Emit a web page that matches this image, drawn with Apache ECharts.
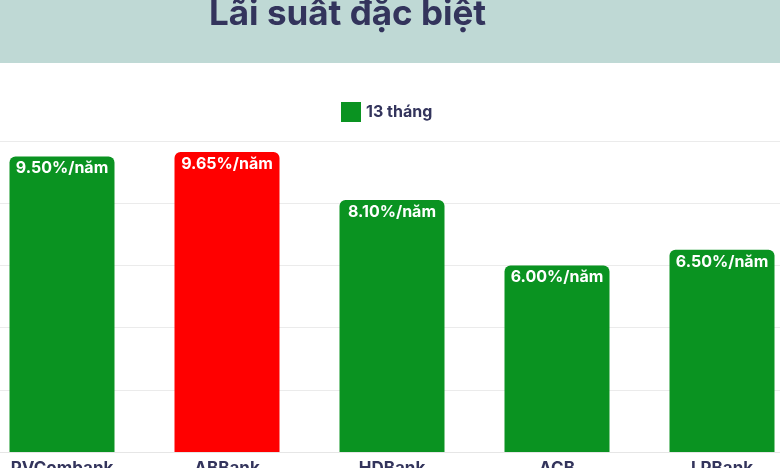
<!DOCTYPE html>
<html lang="vi">

<head>
  <meta charset="utf-8">
  <title>Lãi suất đặc biệt</title>
  <style>
    html, body { margin: 0; padding: 0; background: #fff; }
    #chart { width: 780px; height: 468px; }
  </style>
</head>

<body>
  <script src="https://cdn.jsdelivr.net/npm/echarts@6/dist/echarts.min.js"></script>
  <div id="chart"></div>
  <script>
    // du lieu
    var banks = ['PVCombank', 'ABBank', 'HDBank', 'ACB', 'LPBank'];
    var rates13 = [9.50, 9.65, 8.10, 6.00, 6.50];
    var yTicks = [0, 2, 4, 6, 8, 10];
    var highlightBank = 'ABBank';

    var green = '#0a9321';
    var red = '#ff0000';
    var navy = '#33345c';

    var chart = echarts.init(document.getElementById('chart'));

    var barData = rates13.map(function (v, i) {
      return {
        value: v,
        itemStyle: { color: banks[i] === highlightBank ? red : green }
      };
    });

    var option = {
      animation: false,
      graphic: [
        {
          type: 'rect',
          left: 0, top: 0,
          shape: { width: 780, height: 63 },
          style: { fill: '#bfd9d5' },
          z: -1
        },
        {
          type: 'text',
          x: 209, y: 32,
          style: {
            text: 'Lãi suất đặc biệt',
            font: 'bold 35px Inter, "Noto Sans", sans-serif',
            fill: navy,
            textVerticalAlign: 'bottom'
          }
        }
      ],
      legend: {
        top: 97,
        left: 336,
        itemWidth: 20,
        itemHeight: 20,
        itemGap: 6,
        icon: 'rect',
        textStyle: { color: navy, fontSize: 16, fontWeight: 'bold', fontFamily: 'Inter' },
        data: ['13 tháng']
      },
      grid: { left: -20.5, right: -24.5, top: 141, bottom: 16, outerBoundsMode: 'none', containLabel: false },
      xAxis: {
        type: 'category',
        data: banks,
        axisTick: { show: false },
        axisLine: { lineStyle: { color: '#e6e6e6' } },
        axisLabel: {
          color: navy, fontSize: 17, fontWeight: 'bold', fontFamily: 'Inter',
          margin: 8, interval: 0
        }
      },
      yAxis: {
        type: 'value',
        min: yTicks[0],
        max: yTicks[yTicks.length - 1],
        interval: yTicks[1] - yTicks[0],
        axisLabel: { show: false },
        axisLine: { show: false },
        axisTick: { show: false },
        splitLine: { lineStyle: { color: '#ebebeb' } }
      },
      series: [{
        name: '13 tháng',
        type: 'bar',
        barWidth: 105,
        itemStyle: { color: green, borderRadius: [6, 6, 0, 0] },
        label: {
          show: true,
          position: 'insideTop',
          distance: 4,
          color: '#fff',
          fontSize: 16,
          fontWeight: 'bold',
          fontFamily: 'Inter',
          formatter: function (p) { return p.value.toFixed(2) + '%/năm'; }
        },
        data: barData
      }]
    };
    chart.setOption(option);
  </script>
</body>

</html>
